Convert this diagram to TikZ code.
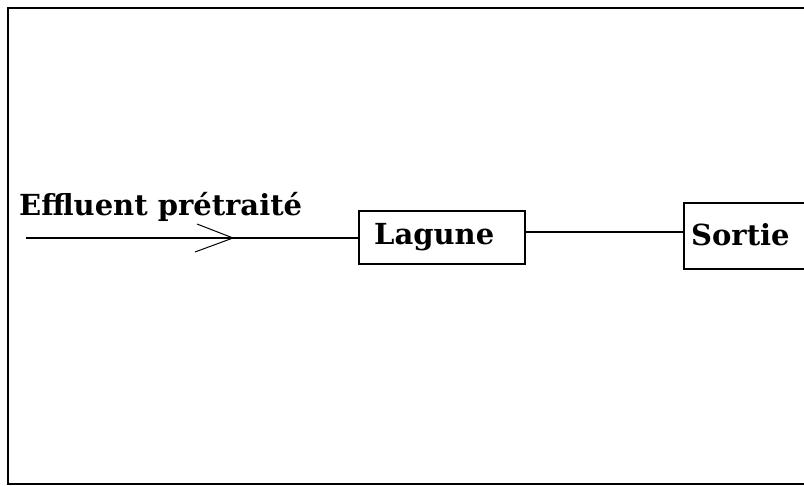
\documentclass[tikz,border=0pt]{standalone}
\usepackage{fontspec}
\setmainfont{DejaVu Serif}
\begin{document}
\begin{tikzpicture}[x=1pt,y=-1pt,
  lbl/.style={font=\fontsize{29}{32}\selectfont\bfseries, inner sep=0pt},
  boxnode/.style={draw=black, line width=1.8pt, inner sep=0pt, anchor=north west},
  conn/.style={line width=1.4pt}]
\useasboundingbox (0,0) rectangle (804,486);
\clip (0,0) rectangle (804,486);
\draw[line width=2.2pt] (830,8) -- (8,8) -- (8,484) -- (830,484);
\node[boxnode, minimum width=166pt, minimum height=53pt] (lagune) at (358,210) {};
\node[lbl, anchor=base west] (lagtxt) at (374,245) {Lagune};
\node[boxnode, minimum width=140pt, minimum height=66pt] (sortie) at (683,202) {};
\node[lbl, anchor=base west] (sorttxt) at (691,246) {Sortie};
\node[lbl, anchor=base west] (eff) at (19,216) {Effluent prétraité};
\coordinate (in) at (26,238);
\draw[conn] (in) -- (lagune.west |- in);
\draw[conn] (lagune.east |- 0,232) -- (sortie.west |- 0,232);
\coordinate (arrtip) at (233,238);
\draw[line width=1pt] (197,224) -- (arrtip) -- (195,252);
\end{tikzpicture}
\end{document}
